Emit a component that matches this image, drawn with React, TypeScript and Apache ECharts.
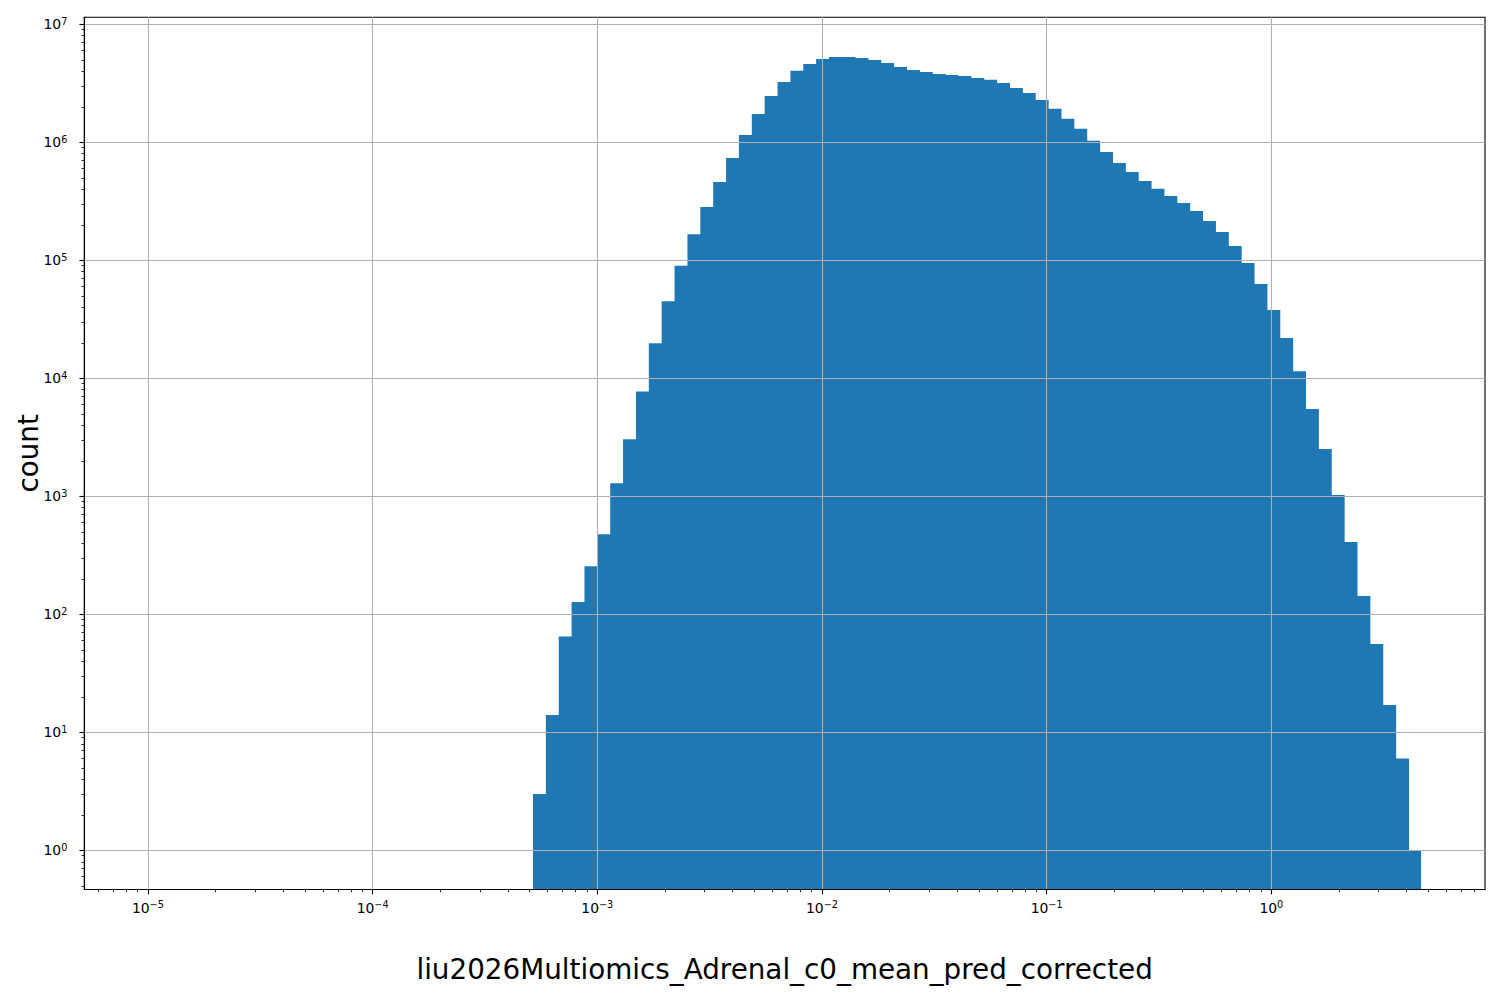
import React, { useEffect, useRef } from 'react';
import * as echarts from 'echarts';

// ---- data ----
// histogram bins are log-spaced between these exponents (69 bins)
const BIN_LOG_START = -3.2862;
const BIN_LOG_END = 0.6663;
const binCounts = [
  3, 14, 65, 127, 255, 477, 1288, 3048, 7730, 19800,
  44900, 90100, 166000, 283000, 461000, 736000, 1154000, 1738000, 2470000, 3240000,
  4030000, 4610000, 5080000, 5280000, 5280000, 5190000, 4990000, 4700000, 4350000, 4100000,
  3940000, 3790000, 3720000, 3650000, 3510000, 3380000, 3180000, 2890000, 2620000, 2280000,
  1920000, 1580000, 1300000, 1030000, 828000, 668000, 561000, 470000, 403000, 351000,
  306000, 262000, 215000, 174000, 132000, 94900, 63000, 38000, 22000, 11500,
  5500, 2520, 1026, 410, 143, 56, 17, 6, 1,
];
const xMajorTicks = [1e-5, 1e-4, 1e-3, 1e-2, 1e-1, 1e0];
const yMajorTicks = [1e0, 1e1, 1e2, 1e3, 1e4, 1e5, 1e6, 1e7];
const X_MIN = 5.21e-6;
const X_MAX = 8.93;
const Y_MIN = 0.4656;
const Y_MAX = 1.146e7;
const xTitle = 'liu2026Multiomics_Adrenal_c0_mean_pred_corrected';
const yTitle = 'count';

const FONT = 'DejaVu Sans';
const BAR_COLOR = '#1f77b4';

function buildBins() {
  const n = binCounts.length;
  const out: number[][] = [];
  for (let i = 0; i < n; i++) {
    const l0 = BIN_LOG_START + ((BIN_LOG_END - BIN_LOG_START) * i) / n;
    const l1 = BIN_LOG_START + ((BIN_LOG_END - BIN_LOG_START) * (i + 1)) / n;
    out.push([Math.pow(10, l0), Math.pow(10, l1), binCounts[i], i === n - 1 ? 0 : 1]);
  }
  return out;
}

function powLabel(v: number) {
  const e = Math.round(Math.log10(v));
  const s = e < 0 ? '\u2212' + Math.abs(e) : String(e);
  return '{b|10}{s|' + s + '}';
}

const richStyles = {
  b: { fontSize: 13.9, fontFamily: FONT, color: '#000', lineHeight: 16 },
  s: { fontSize: 9.7, fontFamily: FONT, color: '#000', lineHeight: 10, verticalAlign: 'top' },
};

export default function App() {
  const ref = useRef<HTMLDivElement>(null);
  useEffect(() => {
    if (!ref.current) return;
    const chart = echarts.init(ref.current, null, { renderer: 'svg' });
    const bins = buildBins();
    const option: any = {
      animation: false,
      backgroundColor: '#fff',
      grid: {
        left: 84.3,
        top: 17.3,
        right: 15,
        bottom: 110.5,
        containLabel: false,
        outerBoundsMode: 'none',
        show: true,
        borderColor: '#000',
        borderWidth: 1.1,
        backgroundColor: 'transparent',
      },
      xAxis: {
        type: 'log',
        logBase: 10,
        min: X_MIN,
        max: X_MAX,
        z: 3,
        axisLine: { show: true, onZero: false, lineStyle: { color: '#000', width: 1.1 } },
        axisTick: { show: true, customValues: xMajorTicks, length: 4.9, lineStyle: { color: '#000', width: 1.1 } },
        minorTick: { show: true, splitNumber: 9, length: 2.8, lineStyle: { color: '#000', width: 0.83 } },
        axisLabel: {
          show: true,
          customValues: xMajorTicks,
          margin: 10,
          formatter: powLabel,
          rich: richStyles,
          color: '#000',
          fontFamily: FONT,
        },
        splitLine: { show: true, lineStyle: { color: '#b0b0b0', width: 1.1 } },
        minorSplitLine: { show: false },
      },
      yAxis: {
        type: 'log',
        logBase: 10,
        min: Y_MIN,
        max: Y_MAX,
        z: 3,
        axisLine: { show: true, onZero: false, lineStyle: { color: '#000', width: 1.1 } },
        axisTick: { show: true, customValues: yMajorTicks, length: 4.9, lineStyle: { color: '#000', width: 1.1 } },
        minorTick: { show: true, splitNumber: 9, length: 2.8, lineStyle: { color: '#000', width: 0.83 } },
        axisLabel: {
          show: true,
          customValues: yMajorTicks,
          margin: 17,
          formatter: powLabel,
          rich: richStyles,
          color: '#000',
          fontFamily: FONT,
        },
        splitLine: { show: true, lineStyle: { color: '#b0b0b0', width: 1.1 } },
        minorSplitLine: { show: false },
      },
      series: [
        {
          type: 'custom',
          clip: true,
          z: 2,
          encode: { x: [0, 1], y: 2 },
          data: bins,
          renderItem: (params: any, api: any) => {
            const x0 = api.value(0);
            const x1 = api.value(1);
            const c = api.value(2);
            const overlap = api.value(3) ? 0.8 : 0;
            const p0 = api.coord([x0, c]);
            const p1 = api.coord([x1, Y_MIN]);
            return {
              type: 'rect',
              shape: { x: p0[0], y: p0[1], width: p1[0] - p0[0] + overlap, height: p1[1] - p0[1] },
              style: { fill: BAR_COLOR },
            };
          },
        },
      ],
      graphic: [
        {
          type: 'text',
          x: 784.6,
          y: 969,
          style: {
            text: xTitle,
            fontSize: 27.8,
            fontFamily: FONT,
            fill: '#000',
            align: 'center',
            verticalAlign: 'middle',
          },
        },
        {
          type: 'text',
          x: 28,
          y: 453.4,
          rotation: Math.PI / 2,
          style: {
            text: yTitle,
            fontSize: 27.8,
            fontFamily: FONT,
            fill: '#000',
            align: 'center',
            verticalAlign: 'middle',
          },
        },
      ],
    };
    chart.setOption(option);
    return () => {
      chart.dispose();
    };
  }, []);
  return (
    <div
      ref={ref}
      style={{ position: 'absolute', left: 0, top: 0, width: 1500, height: 1000 }}
    />
  );
}
